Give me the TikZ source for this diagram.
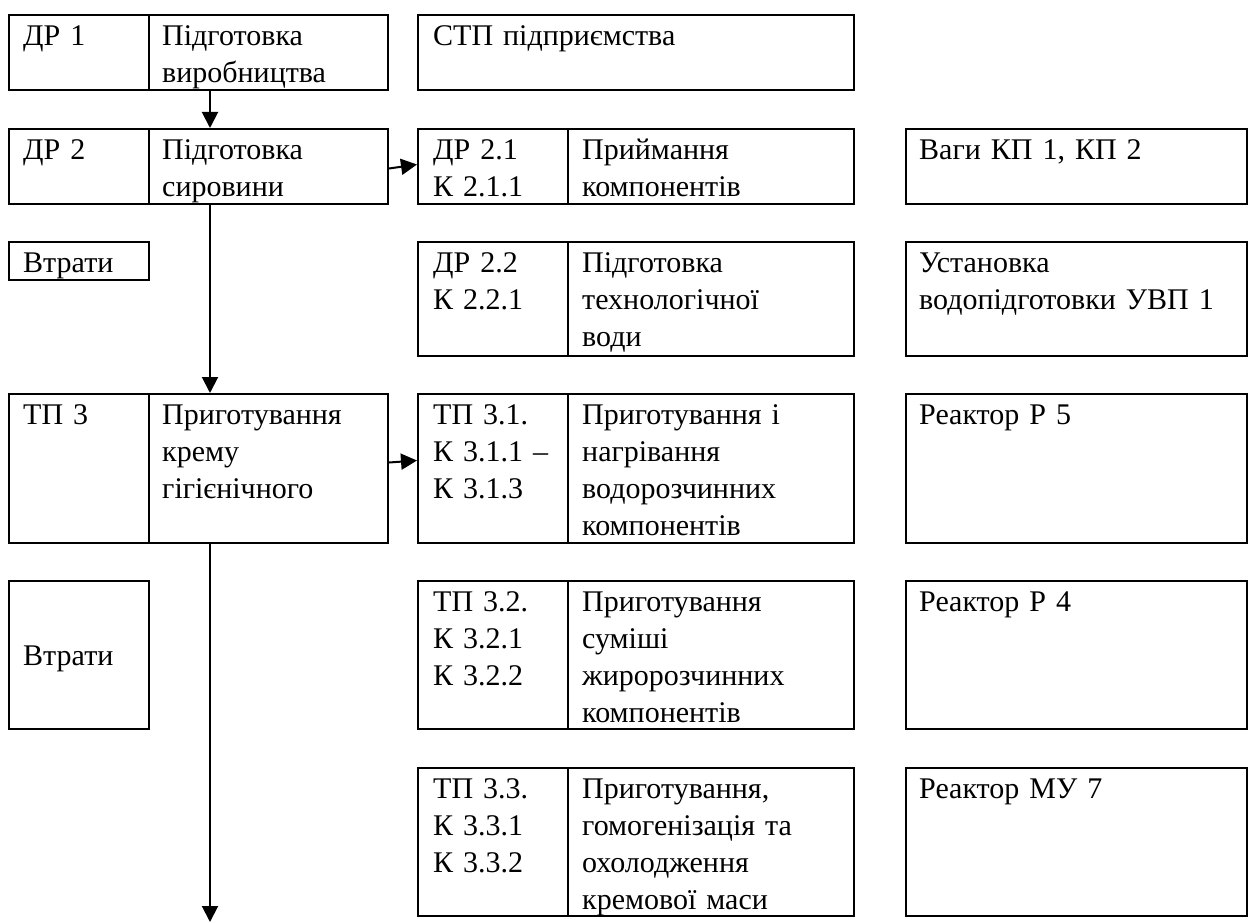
\documentclass[tikz,border=0pt]{standalone}
\usepackage{fontspec}
\setmainfont{Liberation Serif}
\usetikzlibrary{arrows.meta}

\begin{document}
\begin{tikzpicture}[x=1pt, y=-1pt,
        cell/.style={draw, line width=2pt, anchor=north west, inner sep=0pt, minimum width=#1},
        txt/.style={anchor=north west, inner sep=0pt, text width=330pt, align=left,
                font=\fontsize{30}{37}\selectfont, execute at begin node=\strut},
        arr/.style={-{Triangle[length=16pt, width=16pt]}, line width=2pt}]
        \useasboundingbox (0,0) rectangle (1248,923);

        % Nodes
        \node[cell=140pt, minimum height=75pt] (dr1a) at (8,14) {};
        \node[cell=239pt, minimum height=75pt] (dr1b) at (148,14) {};
        \node[cell=436pt, minimum height=75pt] (stp) at (417,14) {};

        \node[cell=140pt, minimum height=75pt] (dr2a) at (8,128) {};
        \node[cell=239pt, minimum height=75pt] (dr2b) at (148,128) {};
        \node[cell=150pt, minimum height=75pt] (dr21a) at (417,128) {};
        \node[cell=286pt, minimum height=75pt] (dr21b) at (567,128) {};
        \node[cell=341pt, minimum height=75pt] (scales) at (905,128) {};

        \node[cell=140pt, minimum height=38pt] (loss1) at (8,241) {};
        \node[cell=150pt, minimum height=114pt] (dr22a) at (417,241) {};
        \node[cell=286pt, minimum height=114pt] (dr22b) at (567,241) {};
        \node[cell=341pt, minimum height=114pt] (water) at (905,241) {};

        \node[cell=140pt, minimum height=149pt] (tp3a) at (8,393) {};
        \node[cell=239pt, minimum height=149pt] (tp3b) at (148,393) {};
        \node[cell=150pt, minimum height=149pt] (tp31a) at (417,393) {};
        \node[cell=286pt, minimum height=149pt] (tp31b) at (567,393) {};
        \node[cell=341pt, minimum height=149pt] (r5) at (905,393) {};

        \node[cell=140pt, minimum height=148pt] (loss2) at (8,580) {};
        \node[cell=150pt, minimum height=148pt] (tp32a) at (417,580) {};
        \node[cell=286pt, minimum height=148pt] (tp32b) at (567,580) {};
        \node[cell=341pt, minimum height=148pt] (r4) at (905,580) {};

        \node[cell=150pt, minimum height=148pt] (tp33a) at (417,767) {};
        \node[cell=286pt, minimum height=148pt] (tp33b) at (567,767) {};
        \node[cell=341pt, minimum height=148pt] (mu7) at (905,767) {};

        % Texts
        \node[txt] (dr1a-t) at (23,19) {ДР 1};
        \node[txt] (dr1b-t) at (162,19) {Підготовка\\виробництва};
        \node[txt] (stp-t) at (433,19) {СТП підприємства};

        \node[txt] (dr2a-t) at (23,133) {ДР 2};
        \node[txt] (dr2b-t) at (162,133) {Підготовка\\сировини};
        \node[txt] (dr21a-t) at (433,133) {ДР 2.1\\К 2.1.1};
        \node[txt] (dr21b-t) at (582,133) {Приймання\\компонентів};
        \node[txt] (scales-t) at (919,133) {Ваги КП 1, КП 2};

        \node[txt] (loss1-t) at (23,246) {Втрати};
        \node[txt] (dr22a-t) at (433,246) {ДР 2.2\\К 2.2.1};
        \node[txt] (dr22b-t) at (582,246) {Підготовка\\технологічної\\води};
        \node[txt] (water-t) at (919,246) {Установка\\водопідготовки УВП 1};

        \node[txt] (tp3a-t) at (23,398) {ТП 3};
        \node[txt] (tp3b-t) at (162,398) {Приготування\\крему\\гігієнічного};
        \node[txt] (tp31a-t) at (433,398) {ТП 3.1.\\К 3.1.1 –\\К 3.1.3};
        \node[txt] (tp31b-t) at (582,398) {Приготування і\\нагрівання\\водорозчинних\\компонентів};
        \node[txt] (r5-t) at (919,398) {Реактор Р 5};

        \node[txt] (loss2-t) at (23,639) {Втрати};
        \node[txt] (tp32a-t) at (433,585) {ТП 3.2.\\К 3.2.1\\К 3.2.2};
        \node[txt] (tp32b-t) at (582,585) {Приготування\\суміші\\жиророзчинних\\компонентів};
        \node[txt] (r4-t) at (919,585) {Реактор Р 4};

        \node[txt] (tp33a-t) at (433,772) {ТП 3.3.\\К 3.3.1\\К 3.3.2};
        \node[txt] (tp33b-t) at (582,772) {Приготування,\\гомогенізація та\\охолодження\\кремової маси};
        \node[txt] (mu7-t) at (919,772) {Реактор МУ 7};

        % Edges
        \coordinate (axis) at (210,0);
        \coordinate (exit) at (210,922);
        \draw[arr] (axis |- dr1b.south) -- (axis |- dr2b.north);
        \draw[arr] (axis |- dr2b.south) -- (axis |- tp3b.north);
        \draw[arr] (axis |- tp3b.south) -- (exit);
        \draw[arr] ([yshift=-2pt]dr2b.east) -- ([yshift=2pt]dr21a.west);
        \draw[arr] ([yshift=6pt]tp3b.east) -- ([yshift=8pt]tp31a.west);

    \end{tikzpicture}
\end{document}
